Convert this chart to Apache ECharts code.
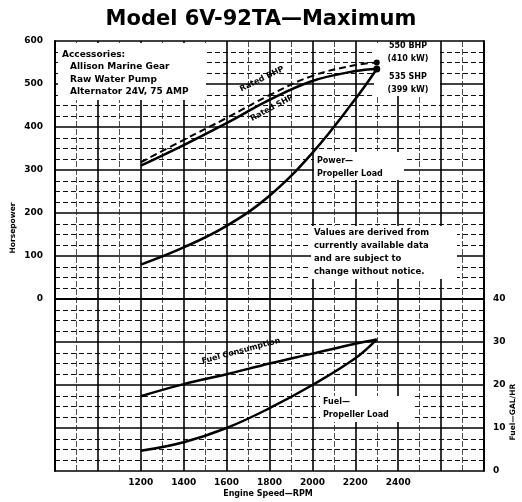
<!DOCTYPE html>
<html><head><meta charset="utf-8">
<script src="https://cdn.jsdelivr.net/npm/echarts@6/dist/echarts.min.js"></script>
<style>html,body{margin:0;padding:0;background:#fff}#c{width:522px;height:502px}</style>
</head><body><div id="c"></div>
<script>
var rpm = [1200, 1400, 1600, 1800, 2000, 2200, 2300];
var ratedBHP = [318, 370, 421, 474, 519, 544, 550];
var ratedSHP = [310, 358, 409, 463, 507, 530, 535];
var powerProp = [80, 120, 170, 240, 340, 465, 535];
var fuelCons = [17.4, 20.2, 22.5, 25.0, 27.3, 29.6, 30.6];
var fuelProp = [4.7, 6.7, 10.0, 14.6, 20.0, 26.2, 30.6];
var xTickLabels = [1200, 1400, 1600, 1800, 2000, 2200, 2400];
var hpTickLabels = [0, 100, 200, 300, 400, 500, 600];
var galTickLabels = [0, 10, 20, 30, 40];

function pairs(xs, ys){ return xs.map(function(x,i){ return [x, ys[i]]; }); }
var F = 'DejaVu Sans';
var chart = echarts.init(document.getElementById('c'));
function txt(x, y, s, size, rot, align){
  return {type:'text', x:x, y:y, rotation:(rot||0)*Math.PI/180, z:100,
    style:{text:s, font:'bold '+(size||9)+'px "'+F+'"', fill:'#000', align:align||'left', verticalAlign:'middle'}};
}
function box(x,y,w,h){ return {type:'rect', shape:{x:x,y:y,width:w,height:h}, z:1, style:{fill:'#fff'}}; }
var lineStyleBase = {color:'#000', width:2.5};
var lineCommon = {smooth:0.4};
chart.setOption({
  animation:false,
  backgroundColor:'#fff',
  title:{text:'Model 6V-92TA\u2014Maximum', left:'center', top:4,
    textStyle:{fontFamily:F, fontWeight:'bold', fontSize:21, color:'#000'}},
  grid:{left:55, right:38, top:41, bottom:31},
  xAxis:{type:'value', min:800, max:2800, interval:200,
    axisLine:{show:true, lineStyle:{color:'#000', width:2}}, axisTick:{show:false},
    axisLabel:{margin:7, fontFamily:F, fontWeight:'bold', fontSize:9, color:'#000',
      formatter:function(v){ return xTickLabels.indexOf(v)>=0 ? String(v) : ''; }},
    splitLine:{show:true, lineStyle:{color:'#000', width:1.6}},
    minorTick:{show:false, splitNumber:2},
    minorSplitLine:{show:true, lineStyle:{color:'#222', width:0.8, type:[6,2]}}
  },
  yAxis:[{type:'value', min:-400, max:600, interval:100, position:'left',
    axisLine:{show:true, lineStyle:{color:'#000', width:2}}, axisTick:{show:false},
    axisLabel:{margin:12, fontFamily:F, fontWeight:'bold', fontSize:9, color:'#000',
      formatter:function(v){ return hpTickLabels.indexOf(v)>=0 ? String(v) : ''; }},
    splitLine:{show:true, lineStyle:{color:'#000', width:1.6}},
    minorTick:{show:false, splitNumber:4},
    minorSplitLine:{show:true, lineStyle:{color:'#111', width:1, type:[5,3]}}
  },{type:'value', min:0, max:100, interval:10, position:'right',
    axisLine:{show:true, lineStyle:{color:'#000', width:2}}, axisTick:{show:false},
    axisLabel:{margin:9, fontFamily:F, fontWeight:'bold', fontSize:9, color:'#000',
      formatter:function(v){ return galTickLabels.indexOf(v)>=0 ? String(v) : ''; }},
    splitLine:{show:false}
  }],
  graphic:[
    box(58,43,148,57), box(374,43,66,53), box(314,152,90,28), box(311,226,146,53), box(320,396,92,26),
    txt(62,55,'Accessories:'), txt(70,67,'Allison Marine Gear'), txt(70,80,'Raw Water Pump'), txt(70,92,'Alternator 24V, 75 AMP'),
    txt(262,79,'Rated BHP',8,26,'center'), txt(272,108,'Rated SHP',8,28,'center'),
    txt(408,46,'550 BHP',8,0,'center'), txt(408,59,'(410 kW)',8,0,'center'),
    txt(408,77,'535 SHP',8,0,'center'), txt(408,90,'(399 kW)',8,0,'center'),
    txt(317,161,'Power\u2014',8), txt(317,174,'Propeller Load',8),
    txt(314,233,'Values are derived from',8.5), txt(314,246,'currently available data',8.5),
    txt(314,259,'and are subject to',8.5), txt(314,272,'change without notice.',8.5),
    txt(241,351,'Fuel Consumption',8,15,'center'),
    txt(323,402,'Fuel\u2014',8), txt(323,415,'Propeller Load',8),
    txt(13,228,'Horsepower',7.5,90,'center'),
    txt(513,412,'Fuel\u2014GAL/HR',7.5,90,'center'),
    txt(268,494,'Engine Speed\u2014RPM',8,0,'center')
  ],
  series:[
    Object.assign({type:'line', name:'Rated BHP', yAxisIndex:0, data:pairs(rpm, ratedBHP),
      lineStyle:{color:'#000', width:2, type:[7,4]},
      symbol:function(v,p){ return p.dataIndex===rpm.length-1 ? 'circle':'none'; }, symbolSize:6,
      itemStyle:{color:'#000'}, z:5}, lineCommon),
    Object.assign({type:'line', name:'Rated SHP', yAxisIndex:0, data:pairs(rpm, ratedSHP),
      lineStyle:lineStyleBase,
      symbol:function(v,p){ return p.dataIndex===rpm.length-1 ? 'circle':'none'; }, symbolSize:7,
      itemStyle:{color:'#000'}, z:5}, lineCommon),
    Object.assign({type:'line', name:'Power-Propeller Load', yAxisIndex:0, data:pairs(rpm, powerProp),
      lineStyle:lineStyleBase, showSymbol:false, z:5}, lineCommon),
    Object.assign({type:'line', name:'Fuel Consumption', yAxisIndex:1, data:pairs(rpm, fuelCons),
      lineStyle:lineStyleBase, showSymbol:false, z:5}, lineCommon),
    Object.assign({type:'line', name:'Fuel-Propeller Load', yAxisIndex:1, data:pairs(rpm, fuelProp),
      lineStyle:lineStyleBase, showSymbol:false, z:5}, lineCommon)
  ]
});
</script></body></html>
